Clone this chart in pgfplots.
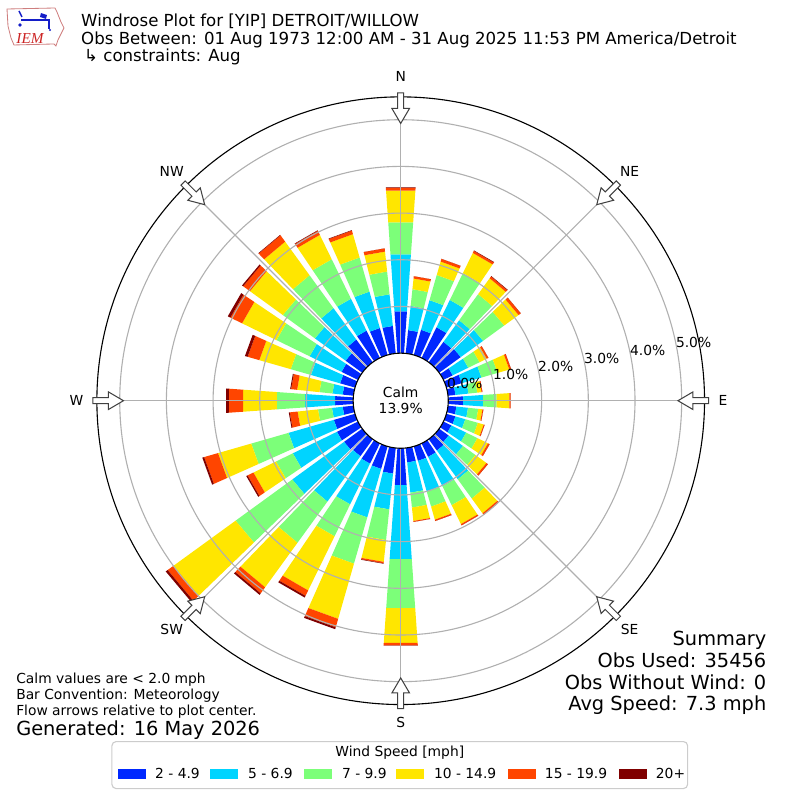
\documentclass[border=0pt]{standalone}
\usepackage{pgfplots}
\pgfplotsset{compat=1.18}
\usepackage{pgfplotstable}
\usepgfplotslibrary{polar}
\usepackage{fontspec}
\setmainfont{DejaVu Sans}
\newfontfamily\logofont{Liberation Serif}
\definecolor{c1}{RGB}{0,40,255}
\definecolor{c2}{RGB}{0,212,255}
\definecolor{c3}{RGB}{124,255,121}
\definecolor{c4}{RGB}{255,230,0}
\definecolor{c5}{RGB}{255,69,0}
\definecolor{c6}{RGB}{128,0,0}
\definecolor{gridgray}{RGB}{176,176,176}
\definecolor{logored}{RGB}{204,34,34}
\definecolor{logoblue}{RGB}{20,30,200}

% cumulative percent at the end of each speed class
% dir  2-4.9 5-6.9 7-9.9 10-14.9 15-19.9 20+
\pgfplotstableread{
d b c g y o r
0 0.90 2.12 2.81 3.49 3.55 3.56
10 0.50 1.02 1.38 1.61 1.66 1.66
20 0.56 1.22 1.78 2.08 2.14 2.14
30 0.73 1.38 2.02 2.50 2.55 2.56
40 0.54 1.11 1.80 2.22 2.27 2.28
50 0.57 1.16 1.72 2.10 2.16 2.16
60 0.22 0.59 0.86 1.03 1.07 1.07
70 0.34 0.78 1.14 1.40 1.44 1.44
80 0.16 0.44 0.63 0.72 0.74 0.74
90 0.32 0.75 1.04 1.31 1.34 1.34
100 0.18 0.43 0.65 0.74 0.76 0.76
110 0.20 0.42 0.70 0.83 0.85 0.85
120 0.19 0.54 0.81 1.06 1.10 1.10
130 0.25 0.63 0.96 1.25 1.29 1.29
140 0.30 1.06 1.57 1.96 2.00 2.00
150 0.32 1.02 1.47 1.92 1.95 1.95
160 0.32 1.00 1.34 1.63 1.66 1.66
170 0.31 0.96 1.28 1.57 1.59 1.59
180 0.79 2.38 3.43 4.18 4.23 4.24
190 0.55 1.32 1.98 2.45 2.48 2.49
200 0.50 1.58 2.61 3.84 4.03 4.07
210 0.48 1.45 2.21 3.50 3.63 3.67
220 0.45 1.65 2.74 3.92 4.08 4.12
230 0.48 1.85 3.35 5.00 5.15 5.20
240 0.50 1.55 1.95 2.49 2.63 2.66
250 0.47 1.48 2.31 3.05 3.36 3.40
260 0.23 0.46 0.76 1.20 1.37 1.39
270 0.39 1.03 1.64 2.36 2.67 2.73
280 0.23 0.45 0.73 1.21 1.34 1.36
290 0.33 0.98 1.43 2.13 2.39 2.45
300 0.39 1.15 1.94 2.76 3.04 3.10
310 0.44 1.25 2.10 2.97 3.15 3.18
320 0.60 1.43 2.30 3.19 3.36 3.37
330 0.65 1.41 2.35 2.93 3.03 3.04
340 0.60 1.41 2.17 2.69 2.77 2.78
350 0.59 1.27 1.76 2.19 2.26 2.26
}\wind

\newcommand\calmoffset{1.02}
\newcommand\windseg[1]{%
  \pgfplotstablegetelem{\i}{[index]#1}\of\wind
  \pgfmathsetmacro\hi{\pgfplotsretval+\calmoffset}%
  \edef\doit{\noexpand\addplot[draw=none,fill=c#1,forget plot,data cs=polar]
    coordinates {(\tA,\lo) (\tB,\lo) (\tB,\hi) (\tA,\hi)} --cycle;}%
  \doit
  \let\lo\hi
}

\begin{document}
\begin{tikzpicture}
\path[use as bounding box] (0,0) rectangle (8in,-8in);
\begin{axis}[at={(4.007in,-4.007in)},anchor=center,
  x=0.467in,y=0.467in,xmin=-7,xmax=7,ymin=-7,ymax=7,
  hide axis,clip=false]
\pgfplotsforeachungrouped \i in {0,...,35}{%
  \pgfplotstablegetelem{\i}{[index]0}\of\wind
  \pgfmathsetmacro\tA{94-\pgfplotsretval}%
  \pgfmathsetmacro\tB{\tA-8}%
  \let\lo\calmoffset
  \windseg{1}\windseg{2}\windseg{3}\windseg{4}\windseg{5}\windseg{6}%
}
\end{axis}

% grid, calm circle, arrows, labels (pixel units, centre of the rose)
\begin{scope}[shift={(4.007in,-4.007in)},x=0.01in,y=0.01in]
  \foreach \r in {94.33,141.03,187.73,234.43,281.13}
    \draw[gridgray,line width=0.8pt] (0,0) circle[radius=\r];
  \foreach \a in {0,45,...,315}
    \draw[gridgray,line width=0.8pt] (\a:47.6) -- (\a:304);
  \draw[black,line width=0.8pt] (0,0) circle[radius=304];
  \draw[black,fill=white,line width=0.8pt] (0,0) circle[radius=47.6];
  \node[font=\fontsize{10}{12}\selectfont,align=center] at (0,0.5) {Calm\\13.9\%};
  \foreach \a in {0,45,...,315}
    \draw[black!75,fill=white,line width=0.75pt,rotate=\a]
      (308,3) -- (292.4,3) -- (292.4,8.8) -- (277.4,0) -- (292.4,-8.8)
      -- (292.4,-3) -- (308,-3) -- cycle;
  \begin{scope}[font=\fontsize{10}{12}\selectfont]
  \node at (90:324) {N};
  \node at (45:324) {NE};
  \node at (0:322.5) {E};
  \node at (-45:324) {SE};
  \node at (-90:322) {S};
  \node at (-135:324) {SW};
  \node at (180:324.5) {W};
  \node at (135:324) {NW};
  \end{scope}
\end{scope}

\begin{scope}[x=0.01in,y=-0.01in,font=\fontsize{10}{12}\selectfont]
  % radial labels
  \node at (465,384) {0.0\%};
  \node at (511,375) {1.0\%};
  \node at (556,367) {2.0\%};
  \node at (602,359) {3.0\%};
  \node at (648,351) {4.0\%};
  \node at (694,343) {5.0\%};
  % logo
  \draw[red!45!gray!70,line width=0.6pt] (7,9) -- (55,8) -- (57,12) -- (61,22) -- (64,28)
     -- (61,34) -- (58,40) -- (56,46) -- (54,44) -- (14,45) -- (11,38) -- (8,26) -- cycle;
  \draw[logoblue,line width=1.3pt] (21,20) -- (50,20);
  \draw[logoblue,line width=1pt] (19,11) -- (22,17);
  \fill[logoblue] (20,25) circle[radius=1.8];
  \fill[logoblue] (41,13) -- (47,15) -- (46,19) -- (40,17) -- cycle;
  \draw[logoblue,line width=0.9pt] (49,20) -- (49,29);
  \fill[logoblue] (50,30) circle[radius=1.2];
  \node[logored,font=\logofont\itshape\fontsize{11}{12}\selectfont] at (30,38.5) {IEM};
  \begin{scope}[every node/.style={inner sep=0pt}]
  % title
  \node[anchor=base west,font=\fontsize{12}{14.4}\selectfont] at (81,27) {Windrose Plot for [YIP] DETROIT/WILLOW};
  \node[anchor=base west,font=\fontsize{12}{14.4}\selectfont] at (81,44.5) {Obs Between: 01 Aug 1973 12:00 AM - 31 Aug 2025 11:53 PM America/Detroit};
  \node[anchor=base west,font=\fontsize{12}{14.4}\selectfont] at (84,62) {↳ constraints: Aug};
  % notes
  \node[anchor=base west] at (16,684) {Calm values are < 2.0 mph};
  \node[anchor=base west] at (16,700) {Bar Convention: Meteorology};
  \node[anchor=base west] at (16,716) {Flow arrows relative to plot center.};
  \node[anchor=base west,font=\fontsize{14}{16.8}\selectfont] at (16,736) {Generated: 16 May 2026};
  % summary
  \node[anchor=base east,font=\fontsize{14}{16.8}\selectfont] at (767,645.5) {Summary};
  \node[anchor=base east,font=\fontsize{14}{16.8}\selectfont] at (767,667.5) {Obs Used: 35456};
  \node[anchor=base east,font=\fontsize{14}{16.8}\selectfont] at (767,689.5) {Obs Without Wind: 0};
  \node[anchor=base east,font=\fontsize{14}{16.8}\selectfont] at (767,711) {Avg Speed: 7.3 mph};
  \end{scope}
  % legend
  \draw[black!20,fill=white,rounded corners=3,line width=0.8pt] (112,742) rectangle (688,789);
  \node at (400,753) {Wind Speed [mph]};
  \fill[c1] (118,769) rectangle (146,779);
  \fill[c2] (210,769) rectangle (238,779);
  \fill[c3] (304,769) rectangle (332,779);
  \fill[c4] (396,769) rectangle (424,779);
  \fill[c5] (508,769) rectangle (536,779);
  \fill[c6] (619,769) rectangle (647,779);
  \begin{scope}[every node/.style={inner sep=0pt,anchor=base west}]
  \node at (155,778.5) {2 - 4.9};
  \node at (248,778.5) {5 - 6.9};
  \node at (342,778.5) {7 - 9.9};
  \node at (434,778.5) {10 - 14.9};
  \node at (545,778.5) {15 - 19.9};
  \node at (656,778.5) {20+};
  \end{scope}
\end{scope}
\end{tikzpicture}
\end{document}
